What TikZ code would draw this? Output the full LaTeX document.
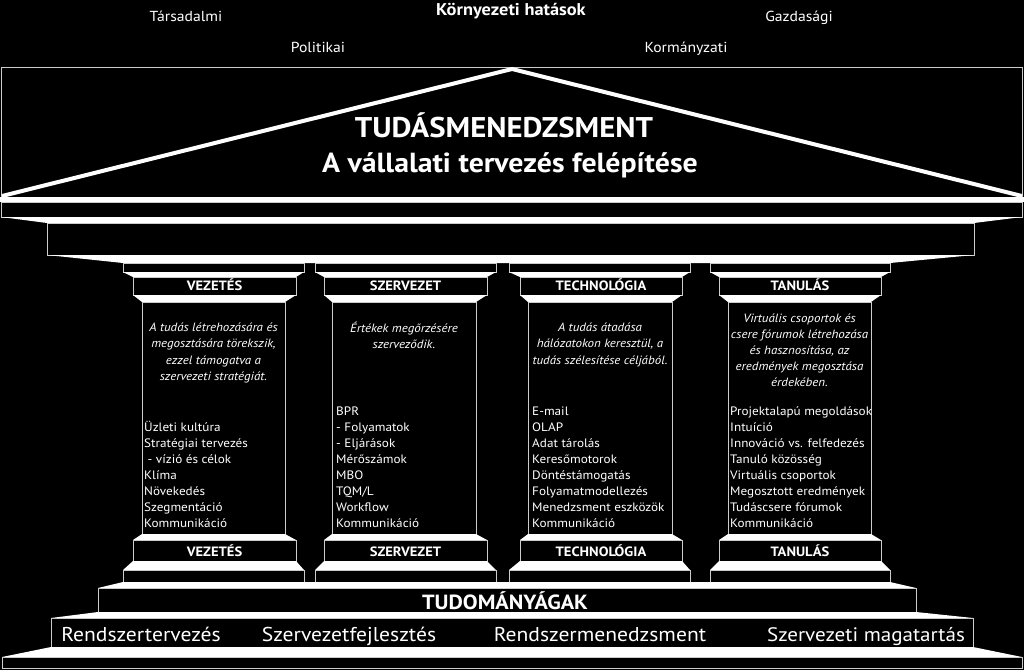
\documentclass[tikz,border=0pt]{standalone}
\usepackage{fontspec}
\setmainfont{PT Sans}[FakeStretch=1.08]
\begin{document}
\begin{tikzpicture}[x=1pt,y=-1pt,
  band/.style={fill=white,draw=none},
  box/.style={draw=white!80!black,line width=0.8pt,fill=black},
  txt/.style={text=white,inner sep=0pt,anchor=base},
  toplbl/.style={txt,font=\fontsize{14.5}{16}\selectfont},
  title/.style={txt,font=\fontsize{28.5}{32}\selectfont\bfseries},
  collbl/.style={txt,font=\fontsize{13.5}{15}\selectfont\bfseries},
  desc/.style={txt,font=\fontsize{12}{14}\selectfont\itshape},
  item/.style={txt,anchor=base west,font=\fontsize{12.2}{14}\selectfont},
  big/.style={txt,font=\fontsize{20}{23}\selectfont}]
\fill[black] (0,0) rectangle (1024,670);
\useasboundingbox (0,0) rectangle (1024,670);

% roof
\draw[box] (1,67) rectangle (1022,197);
\draw[white,line width=4pt] (2,196) -- (512,69) -- (1022,196);
\fill[band] (0,197) rectangle (1024,202);
\draw[box] (1,202) rectangle (1022,217);
\fill[band] (1,217) -- (1022,217) -- (974,223) -- (47,223) -- cycle;
\draw[box] (47,223) rectangle (974,255);
\fill[band] (47,255) -- (974,255) -- (890,263) -- (123,263) -- cycle;

% columns
\foreach \a/\b/\c/\d/\e/\f in {123/304/133/296/142/285,315/496/324/487/332/476,509/690/520/682/528/672,710/890/719/881/728/871}{
  \draw[box] (\a,263) rectangle (\b,272);
  \fill[band] (\a,272) -- (\b,272) -- (\d,277) -- (\c,277) -- cycle;
  \draw[box] (\c,277) rectangle (\d,295);
  \fill[band] (\c,295) -- (\d,295) -- (\f,302) -- (\e,302) -- cycle;
  \draw[box] (\e,302) rectangle (\f,534);
  \fill[band] (\e,534) -- (\f,534) -- (\d,540) -- (\c,540) -- cycle;
  \draw[box] (\c,540) rectangle (\d,561);
  \fill[band] (\c,561) -- (\d,561) -- (\b,570) -- (\a,570) -- cycle;
  \draw[box] (\a,570) rectangle (\b,582);
}

% steps
\fill[band] (123,582) -- (890,582) -- (916,588) -- (98,588) -- cycle;
\draw[box] (98,588) rectangle (916,612);
\fill[band] (98,612) -- (916,612) -- (973,618) -- (51,618) -- cycle;
\draw[box] (51,618) rectangle (973,647);
\fill[band] (51,647) -- (973,647) -- (1022,657) -- (2,657) -- cycle;
\draw[box] (2,657) rectangle (1022,668);

% top texts
\node[toplbl] (tars) at (186,21) {Társadalmi};
\node[toplbl] (pol) at (318,52) {Politikai};
\node[toplbl,font=\fontsize{17}{19}\selectfont\bfseries] (korny) at (511,15) {Környezeti hatások};
\node[toplbl] (gazd) at (799,21) {Gazdasági};
\node[toplbl] (korm) at (686,52) {Kormányzati};

\node[title] (t1) at (504,137) {TUDÁSMENEDZSMENT};
\node[title,font=\fontsize{27.6}{32}\selectfont\bfseries] (t2) at (510,172) {A vállalati tervezés felépítése};

% column labels
\node[collbl] (v1) at (214.5,290) {VEZETÉS};
\node[collbl] (s1) at (405.5,290) {SZERVEZET};
\node[collbl] (te1) at (601,290) {TECHNOLÓGIA};
\node[collbl] (ta1) at (800,290) {TANULÁS};
\node[collbl] (v2) at (214.5,556) {VEZETÉS};
\node[collbl] (s2) at (405.5,556) {SZERVEZET};
\node[collbl] (te2) at (601,556) {TECHNOLÓGIA};
\node[collbl] (ta2) at (800,556) {TANULÁS};

% descriptions
\foreach \t [count=\i] in {A tudás létrehozására és,{megosztására törekszik,},ezzel támogatva a,szervezeti stratégiát.}
  \node[desc] (d1\i) at (213.5,331.5+16.3*\i-16.3) {\t};
\foreach \t [count=\i] in {Értékek megőrzésére,szerveződik.}
  \node[desc] (d2\i) at (404,332.5+16.3*\i-16.3) {\t};
\foreach \t [count=\i] in {A tudás átadása,{hálózatokon keresztül, a},tudás szélesítése céljából.}
  \node[desc] (d3\i) at (600,331.5+16.3*\i-16.3) {\t};
\foreach \t [count=\i] in {Virtuális csoportok és,csere fórumok létrehozása,{és hasznosítása, az},eredmények megosztása,érdekében.}
  \node[desc] (d4\i) at (799.5,322.5+16*\i-16) {\t};

% lists
\foreach \t [count=\i] in {Üzleti kultúra,Stratégiai tervezés,{\ - vízió és célok},Klíma,Növekedés,Szegmentáció,Kommunikáció}
  \node[item] (l1\i) at (144,431.5+16*\i-16) {\t};
\foreach \t [count=\i] in {BPR,- Folyamatok,- Eljárások,Mérőszámok,MBO,TQM/L,Workflow,Kommunikáció}
  \node[item] (l2\i) at (336,415.5+16*\i-16) {\t};
\foreach \t [count=\i] in {E-mail,OLAP,Adat tárolás,Keresőmotorok,Döntéstámogatás,Folyamatmodellezés,Menedzsment eszközök,Kommunikáció}
  \node[item] (l3\i) at (532,415.5+16*\i-16) {\t};
\foreach \t [count=\i] in {Projektalapú megoldások,Intuíció,Innováció vs. felfedezés,Tanuló közösség,Virtuális csoportok,Megosztott eredmények,Tudáscsere fórumok,Kommunikáció}
  \node[item] (l4\i) at (730,415.5+16*\i-16) {\t};

% foundation
\node[big,font=\fontsize{20.5}{23}\selectfont\bfseries] (tud) at (505,609) {TUDOMÁNYÁGAK};
\node[big] (b1) at (141,641) {Rendszertervezés};
\node[big] (b2) at (349,641) {Szervezetfejlesztés};
\node[big] (b3) at (600,641) {Rendszermenedzsment};
\node[big,font=\fontsize{19.5}{23}\selectfont] (b4) at (866,641) {Szervezeti magatartás};
\end{tikzpicture}
\end{document}
